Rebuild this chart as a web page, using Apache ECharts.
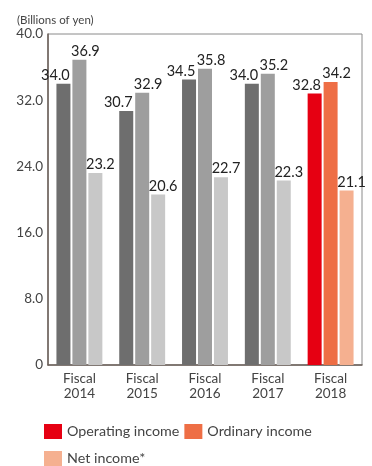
<!DOCTYPE html>
<html>
<head>
<meta charset="utf-8">
<script src="https://cdn.jsdelivr.net/npm/echarts@6/dist/echarts.min.js"></script>
<style>html,body{margin:0;padding:0;background:#fff;}#c{width:372px;height:466px;}</style>
</head>
<body>
<div id="c"></div>
<script>
var categories = ['Fiscal\n2014', 'Fiscal\n2015', 'Fiscal\n2016', 'Fiscal\n2017', 'Fiscal\n2018'];
var operatingIncome = [34.0, 30.7, 34.5, 34.0, 32.8];
var ordinaryIncome = [36.9, 32.9, 35.8, 35.2, 34.2];
var netIncome = [23.2, 20.6, 22.7, 22.3, 21.1];
var seriesNames = ['Operating income', 'Ordinary income', 'Net income*'];
var yTicks = [0, 8, 16, 24, 32, 40];

var highlightColors = ['#e60012', '#ee6e45', '#f5b090'];
var pastColors = ['#6e6e6e', '#9e9e9e', '#c8c8c8'];
var offsets = [[-8, 0], [6, 0], [5, 0]];
var FONT = 'Lato';

function makeSeries(idx, values) {
  return {
    name: seriesNames[idx],
    type: 'bar',
    barWidth: 14,
    barGap: '14%',
    itemStyle: { color: highlightColors[idx] },
    data: values.map(function (v, i) {
      return i === values.length - 1 ? v : { value: v, itemStyle: { color: pastColors[idx] } };
    }),
    label: {
      show: true,
      position: 'top',
      distance: 1,
      offset: offsets[idx],
      color: '#222',
      fontFamily: FONT,
      fontSize: 14.5,
      formatter: function (p) { return p.value.toFixed(1); }
    }
  };
}

var chart = echarts.init(document.getElementById('c'), null, { renderer: 'canvas' });
chart.setOption({
  animation: false,
  backgroundColor: '#fff',
  title: {
    text: '(Billions of yen)',
    left: 12, top: 9,
    textStyle: { fontFamily: FONT, fontSize: 11.5, fontWeight: 'normal', color: '#444' }
  },
  grid: { left: 48, right: 10, top: 34, bottom: 101, show: true, borderColor: '#8a8a8a', borderWidth: 1 },
  legend: [{
    data: [seriesNames[0], seriesNames[1]],
    left: 39, top: 419, itemWidth: 18, itemHeight: 15, itemGap: 5,
    icon: 'rect',
    textStyle: { fontFamily: FONT, fontSize: 14.3, color: '#444' }
  }, {
    data: [seriesNames[2]],
    left: 39, top: 446, itemWidth: 18, itemHeight: 15,
    icon: 'rect',
    textStyle: { fontFamily: FONT, fontSize: 14.3, color: '#444' }
  }],
  xAxis: {
    type: 'category',
    data: categories,
    axisLine: { lineStyle: { color: '#6b5f58', width: 1.5 } },
    axisTick: { show: false },
    axisLabel: { fontFamily: FONT, fontSize: 13.5, color: '#444', lineHeight: 15, margin: 6 }
  },
  yAxis: {
    type: 'value',
    min: yTicks[0], max: yTicks[yTicks.length - 1], interval: 8,
    axisLine: { show: true, lineStyle: { color: '#6b5f58', width: 1.5 } },
    axisTick: { show: false },
    splitLine: { show: false },
    axisLabel: {
      fontFamily: FONT, fontSize: 13.5, color: '#444', margin: 5,
      formatter: function (v) { return v === 0 ? '0' : v.toFixed(1); }
    }
  },
  series: [makeSeries(0, operatingIncome), makeSeries(1, ordinaryIncome), makeSeries(2, netIncome)]
});
</script>
</body>
</html>
